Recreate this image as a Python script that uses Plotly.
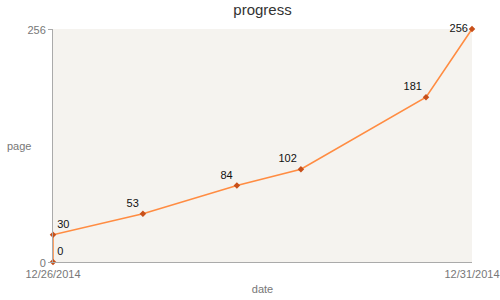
import plotly.graph_objects as go

dates = ["2014-12-26 00:00", "2014-12-26 00:00", "2014-12-27 01:45", "2014-12-28 04:40",
         "2014-12-28 23:00", "2014-12-30 10:50", "2014-12-31 00:00"]
pages = [0, 30, 53, 84, 102, 181, 256]
labels = [str(p) for p in pages]
text_pos = ["top right", "top right", "top left", "top left", "top left", "top left", "middle left"]
x_ticks = ["2014-12-26", "2014-12-31"]
x_tick_text = ["12/26/2014", "12/31/2014"]
y_ticks = [0, 256]

FONT = "Liberation Sans, Arial, Helvetica, sans-serif"

fig = go.Figure()
fig.add_trace(go.Scatter(
    x=dates, y=pages, mode="lines+markers+text",
    text=labels, textposition=text_pos,
    textfont=dict(family=FONT, size=11, color="#111111"),
    line=dict(color="#ff8c42", width=1.6),
    marker=dict(symbol="diamond", size=5, color="#c8501a"),
    cliponaxis=False, showlegend=False,
))

fig.update_layout(
    width=500, height=300,
    margin=dict(l=53, r=28, t=29, b=38, autoexpand=False),
    paper_bgcolor="white", plot_bgcolor="#f5f3ef",
    font=dict(family=FONT, size=11, color="#777777"),
    title=dict(text="progress", x=(53 + 472) / 2 / 500, xanchor="center",
               y=1 - 10 / 300, yanchor="middle",
               font=dict(family=FONT, size=15, color="#333333")),
    xaxis=dict(range=[x_ticks[0], x_ticks[1]], tickvals=x_ticks, ticktext=x_tick_text,
               showgrid=False, zeroline=False, showline=True, linecolor="#aaaaaa",
               linewidth=1, ticks="", automargin=False, ticklabelstandoff=2,
               tickfont=dict(size=11, color="#777777"),
               title=dict(text="date", font=dict(size=11, color="#777777"), standoff=6)),
    yaxis=dict(range=[0, 256], tickvals=y_ticks, showgrid=False, zeroline=False,
               showline=True, linecolor="#aaaaaa", linewidth=1, automargin=False,
               ticks="outside", ticklen=4, tickcolor="#aaaaaa", ticklabelshift=1,
               tickfont=dict(size=11, color="#777777")),
    annotations=[dict(text="page", x=-48 / 419, xref="paper", xanchor="left", y=0.5,
                      yref="paper", showarrow=False, font=dict(size=11, color="#777777"))],
)
fig.write_html("out.html")
